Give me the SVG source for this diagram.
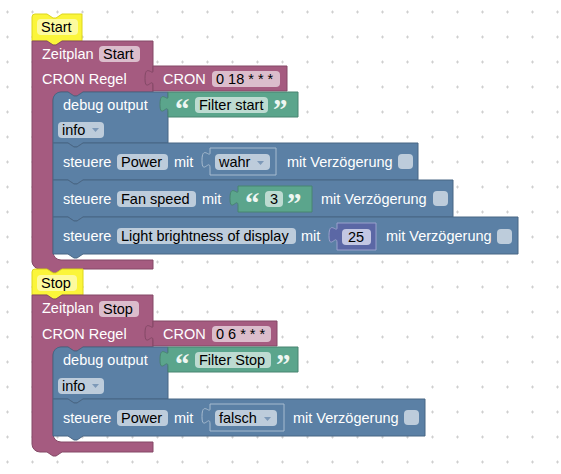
<svg xmlns="http://www.w3.org/2000/svg" width="561" height="474" viewBox="0 0 561 474">
<style>
.lbl{font-family:"Liberation Sans",Arial,sans-serif;font-size:14.5px;fill:#ffffff}
.ft{font-family:"Liberation Sans",Arial,sans-serif;font-size:14.5px;fill:#000000}
.q{font-family:"Liberation Serif","Times New Roman",serif;font-size:29px;font-weight:bold;fill:#eef6f2}
.mar{fill:#a55b80;stroke:#844966;stroke-width:1}
.blu{fill:#5b80a5;stroke:#496684;stroke-width:1}
.slot{fill:#5b80a5;stroke:#a7bbcf;stroke-width:1}
.grn{fill:#5ba58c;stroke:#498470;stroke-width:1}
.pur{fill:#5b67a5;stroke:#9aa1cc;stroke-width:1}
.yel{fill:#fbf53a;stroke:#dcd61c;stroke-width:1}
.fm{fill:#dbbdcc}
.fb{fill:#bdccdb}
.fg{fill:#bddbd1}
.fp{fill:#c3c7e3}
.fy{fill:#fdfa9e}
.arr{fill:#7d99b8}
</style>
<defs>
<pattern id="grid" x="-5" y="-0.5" width="25" height="25" patternUnits="userSpaceOnUse">
<path d="M11,12.5 h3 M12.5,11 v3" stroke="#cfcfcf" stroke-width="1" fill="none"/>
</pattern>
</defs>
<rect width="561" height="474" fill="#ffffff"/>
<rect width="561" height="474" fill="url(#grid)"/>

<g id="start-label">
<path class="yel" d="M32,17 a3,3 0 0 1 3,-3 H47 l6,4 3,0 6,-4 H82 V41 H62 l-6,4 -3,0 -6,-4 H32 Z"/>
<rect class="fy" x="37" y="19" width="41" height="16" rx="4"/>
<text class="ft" x="41" y="32">Start</text>
</g>

<g id="zeitplan-start">
<path class="mar" d="M32,41 H47 l6,4 3,0 6,-4 H153 V92 H83 l-6,4 -3,0 -6,-4 H61 a8,8 0 0 0 -8,8 V252 a8,8 0 0 0 8,8 H153 V269 H62 l-6,4 -3,0 -6,-4 H40 a8,8 0 0 1 -8,-8 Z"/>
<text class="lbl" x="42" y="58.5">Zeitplan</text>
<rect class="fm" x="99" y="46" width="41" height="16" rx="4"/>
<text class="ft" x="103" y="58.5">Start</text>
<text class="lbl" x="42" y="84">CRON Regel</text>
</g>

<g id="cron-start">
<path class="mar" d="M153,66 H287 V91 H153 V86 c0,-10 -8,8 -8,-7.5 s8,-2.5 8,-7.5 Z"/>
<text class="lbl" x="163" y="84">CRON</text>
<rect class="fm" x="212" y="71" width="68" height="16" rx="4"/>
<text class="ft" x="216" y="84">0 18 * * *</text>
</g>

<g id="debug-start">
<path class="blu" d="M53,100 a8,8 0 0 1 8,-8 H68 l6,4 3,0 6,-4 H168 V143 H83 l-6,4 -3,0 -6,-4 H53 Z"/>
<text class="lbl" x="63" y="109.5">debug output</text>
<rect class="fb" x="58" y="122" width="46" height="16" rx="4"/>
<text class="ft" x="62" y="134.5">info</text>
<path class="arr" d="M92,128 h7 l-3.5,4 Z"/>
</g>

<g id="text-filter-start">
<path class="grn" d="M168,92 H298 V117 H168 V112 c0,-10 -8,8 -8,-7.5 s8,-2.5 8,-7.5 Z"/>
<text class="q" x="175" y="119">“</text>
<rect class="fg" x="195" y="97" width="73" height="16" rx="4"/>
<text class="ft" x="199" y="109.5">Filter start</text>
<text class="q" x="273" y="119">”</text>
</g>

<g id="power-start">
<path class="blu" d="M53,143 H68 l6,4 3,0 6,-4 H418 V180 H83 l-6,4 -3,0 -6,-4 H53 Z"/>
<text class="lbl" x="63" y="166.5">steuere</text>
<rect class="fb" x="117" y="154" width="51" height="16" rx="4"/>
<text class="ft" x="121" y="166.5">Power</text>
<text class="lbl" x="174" y="166.5">mit</text>
<path class="slot" d="M210,148 H276 V175 H210 V168 c0,-10 -8,8 -8,-7.5 s8,-2.5 8,-7.5 Z"/>
<rect class="fb" x="215" y="154" width="55" height="16" rx="4"/>
<text class="ft" x="219" y="166.5">wahr</text>
<path class="arr" d="M257,161 h7 l-3.5,4 Z"/>
<text class="lbl" x="287" y="166.5">mit Verzögerung</text>
<rect class="fb" x="398" y="154" width="15" height="15" rx="4"/>
</g>

<g id="fan-start">
<path class="blu" d="M53,180 H68 l6,4 3,0 6,-4 H453 V217 H83 l-6,4 -3,0 -6,-4 H53 Z"/>
<text class="lbl" x="63" y="203.5">steuere</text>
<rect class="fb" x="117" y="191" width="79" height="16" rx="4"/>
<text class="ft" x="121" y="203.5">Fan speed</text>
<text class="lbl" x="202" y="203.5">mit</text>
<path class="grn" d="M238,186 H312 V212 H238 V206 c0,-10 -8,8 -8,-7.5 s8,-2.5 8,-7.5 Z"/>
<text class="q" x="245" y="213">“</text>
<rect class="fg" x="265" y="191" width="18" height="16" rx="4"/>
<text class="ft" x="270" y="203.5">3</text>
<text class="q" x="287" y="213">”</text>
<text class="lbl" x="321" y="203.5">mit Verzögerung</text>
<rect class="fb" x="433" y="191" width="15" height="15" rx="4"/>
</g>

<g id="light-start">
<path class="blu" d="M53,217 H68 l6,4 3,0 6,-4 H518 V254 H83 l-6,4 -3,0 -6,-4 H53 Z"/>
<text class="lbl" x="63" y="240.5">steuere</text>
<rect class="fb" x="117" y="228" width="179" height="16" rx="4"/>
<text class="ft" x="121" y="240.5">Light brightness of display</text>
<text class="lbl" x="301" y="240.5">mit</text>
<path class="pur" d="M337,223 H376 V250 H337 V243 c0,-10 -8,8 -8,-7.5 s8,-2.5 8,-7.5 Z"/>
<rect class="fp" x="342" y="229" width="29" height="16" rx="4"/>
<text class="ft" x="348" y="241.5">25</text>
<text class="lbl" x="386" y="240.5">mit Verzögerung</text>
<rect class="fb" x="497" y="229" width="15" height="15" rx="4"/>
</g>

<g id="stop-label">
<path class="yel" d="M32,272 a3,3 0 0 1 3,-3 H47 l6,4 3,0 6,-4 H83 V295 H62 l-6,4 -3,0 -6,-4 H32 Z"/>
<rect class="fy" x="37" y="275" width="40" height="16" rx="4"/>
<text class="ft" x="41" y="287.5">Stop</text>
</g>

<g id="zeitplan-stop">
<path class="mar" d="M32,295 H47 l6,4 3,0 6,-4 H153 V347 H83 l-6,4 -3,0 -6,-4 H61 a8,8 0 0 0 -8,8 V434 a8,8 0 0 0 8,8 H153 V452 H62 l-6,4 -3,0 -6,-4 H40 a8,8 0 0 1 -8,-8 Z"/>
<text class="lbl" x="42" y="313">Zeitplan</text>
<rect class="fm" x="99" y="301" width="40" height="16" rx="4"/>
<text class="ft" x="103" y="313.5">Stop</text>
<text class="lbl" x="42" y="338.5">CRON Regel</text>
</g>

<g id="cron-stop">
<path class="mar" d="M153,321 H277 V346 H153 V341 c0,-10 -8,8 -8,-7.5 s8,-2.5 8,-7.5 Z"/>
<text class="lbl" x="163" y="338.5">CRON</text>
<rect class="fm" x="212" y="326" width="59" height="16" rx="4"/>
<text class="ft" x="216" y="338.5">0 6 * * *</text>
</g>

<g id="debug-stop">
<path class="blu" d="M53,355 a8,8 0 0 1 8,-8 H68 l6,4 3,0 6,-4 H168 V399 H83 l-6,4 -3,0 -6,-4 H53 Z"/>
<text class="lbl" x="63" y="364.5">debug output</text>
<rect class="fb" x="58" y="378" width="46" height="16" rx="4"/>
<text class="ft" x="62" y="390.5">info</text>
<path class="arr" d="M92,384 h7 l-3.5,4 Z"/>
</g>

<g id="text-filter-stop">
<path class="grn" d="M168,347 H298 V372 H168 V367 c0,-10 -8,8 -8,-7.5 s8,-2.5 8,-7.5 Z"/>
<text class="q" x="175" y="374">“</text>
<rect class="fg" x="195" y="352" width="76" height="16" rx="4"/>
<text class="ft" x="199" y="364.5">Filter Stop</text>
<text class="q" x="276" y="374">”</text>
</g>

<g id="power-stop">
<path class="blu" d="M53,399 H68 l6,4 3,0 6,-4 H425 V436 H83 l-6,4 -3,0 -6,-4 H53 Z"/>
<text class="lbl" x="63" y="422.5">steuere</text>
<rect class="fb" x="117" y="410" width="51" height="16" rx="4"/>
<text class="ft" x="121" y="422.5">Power</text>
<text class="lbl" x="174" y="422.5">mit</text>
<path class="slot" d="M210,404 H284 V431 H210 V424 c0,-10 -8,8 -8,-7.5 s8,-2.5 8,-7.5 Z"/>
<rect class="fb" x="215" y="410" width="62" height="16" rx="4"/>
<text class="ft" x="219" y="422.5">falsch</text>
<path class="arr" d="M264,417 h7 l-3.5,4 Z"/>
<text class="lbl" x="293" y="422.5">mit Verzögerung</text>
<rect class="fb" x="404" y="410" width="15" height="15" rx="4"/>
</g>

<g id="connectors"></g>
</svg>
